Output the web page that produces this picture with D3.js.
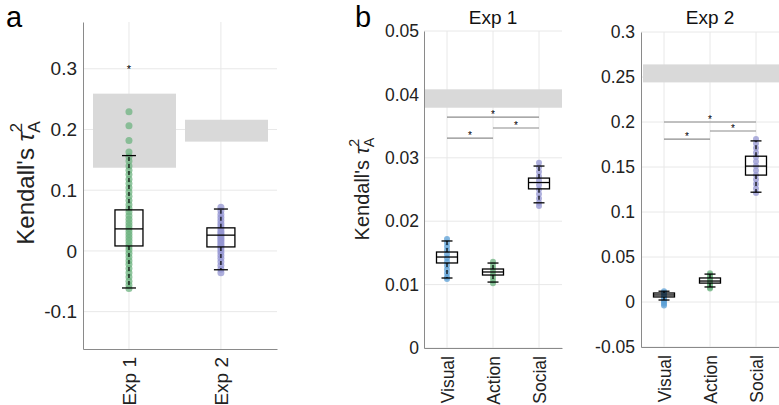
<!DOCTYPE html>
<html><head><meta charset="utf-8">
<script src="https://cdn.jsdelivr.net/npm/d3@7"></script>
<style>body{margin:0;background:#fff} text{font-family:"Liberation Sans",Arial,Helvetica,sans-serif}</style>
</head><body><svg id="c" width="779" height="405"></svg>
<script>
// ---------- data ----------
// panel a
const aCats = ["Exp 1", "Exp 2"];
const aTicks = [-0.1, 0, 0.1, 0.2, 0.3];
const aTickLabels = ["-0.1", "0", "0.1", "0.2", "0.3"];
const aExp1Points = [0.229, 0.206, 0.182, 0.163, 0.155, 0.148, 0.140, 0.133, 0.126, 0.118, 0.111, 0.104, 0.097, 0.090, 0.083, 0.076, 0.070, 0.064, 0.058, 0.052, 0.047, 0.042, 0.037, 0.032, 0.027, 0.022, 0.017, 0.012, 0.007, 0.002, -0.004, -0.010, -0.016, -0.022, -0.029, -0.036, -0.043, -0.050, -0.056, -0.062];
const aExp2Points = [0.072, 0.066, 0.060, 0.055, 0.050, 0.045, 0.041, 0.037, 0.033, 0.030, 0.027, 0.024, 0.021, 0.018, 0.015, 0.012, 0.009, 0.006, 0.002, -0.002, -0.007, -0.012, -0.018, -0.024, -0.030, -0.036];
// box stats: q1, median, q3, lower whisker, upper whisker
const aBoxStats = [[0.0082, 0.0363, 0.0676, -0.061, 0.157], [0.0066, 0.026, 0.038, -0.031, 0.069]];
const aOutliers = [[0, 0.303]];
const aCeilLow = [0.137, 0.180];
const aCeilHigh = [0.259, 0.216];

// panel b
const bCats = ["Visual", "Action", "Social"];
const b1Ticks = [0, 0.01, 0.02, 0.03, 0.04, 0.05];
const b1TickLabels = ["0", "0.01", "0.02", "0.03", "0.04", "0.05"];
const b1Visual = [0.0172, 0.0166, 0.0160, 0.0154, 0.0148, 0.0142, 0.0136, 0.0130, 0.0124, 0.0118, 0.0112, 0.0109];
const b1Action = [0.0136, 0.0131, 0.0126, 0.0121, 0.0116, 0.0111, 0.0106, 0.0102];
const b1Social = [0.0292, 0.0285, 0.0278, 0.0271, 0.0264, 0.0257, 0.0250, 0.0243, 0.0236, 0.0229, 0.0224];
const b1BoxStats = [[0.01341, 0.01435, 0.01514, 0.01104, 0.01688], [0.01151, 0.01199, 0.01246, 0.0104, 0.0134], [0.0251, 0.0261, 0.0268, 0.0229, 0.0287]];
const b1Ceil = [0.0379, 0.0408];
const b1Sig = [[0, 2, 0.0364], [1, 2, 0.0347], [0, 1, 0.0331]];

const b2Ticks = [-0.05, 0, 0.05, 0.1, 0.15, 0.2, 0.25, 0.3];
const b2TickLabels = ["-0.05", "0", "0.05", "0.1", "0.15", "0.2", "0.25", "0.3"];
const b2Visual = [0.012, 0.010, 0.008, 0.006, 0.004, 0.002, 0.000, -0.002, -0.004];
const b2Action = [0.032, 0.030, 0.028, 0.026, 0.024, 0.022, 0.020, 0.018, 0.016, 0.015];
const b2Social = [0.181, 0.176, 0.171, 0.166, 0.161, 0.156, 0.151, 0.146, 0.141, 0.136, 0.131, 0.126, 0.121];
const b2BoxStats = [[0.0056, 0.0078, 0.010, 0.0022, 0.012], [0.021, 0.0233, 0.0267, 0.0167, 0.031], [0.141, 0.151, 0.162, 0.122, 0.179]];
const b2Ceil = [0.244, 0.264];
const b2Sig = [[0, 2, 0.200], [1, 2, 0.190], [0, 1, 0.181]];

// ---------- drawing ----------
const COL_BLUE = "#5b9fd6", COL_GREEN = "#6db380", COL_PURPLE = "#9496d2";
const svg = d3.select("#c");
svg.append("rect").attr("width", 779).attr("height", 405).attr("fill", "#fff");

function panel(cfg) {
  const g = svg.append("g");
  const x = d3.scaleLinear().domain(cfg.xDomain).range([cfg.left, cfg.right]);
  const y = d3.scaleLinear().domain(cfg.yDomain).range([cfg.bottom, cfg.top]);
  const cx = i => x(i + 1);
  // grid
  g.selectAll(".gy").data(cfg.ticks).enter().append("line")
    .attr("x1", cfg.left).attr("x2", cfg.right).attr("y1", d => y(d)).attr("y2", d => y(d))
    .attr("stroke", "#e8e8e8").attr("stroke-width", 1);
  g.selectAll(".gx").data(cfg.cats).enter().append("line")
    .attr("x1", (d, i) => cx(i)).attr("x2", (d, i) => cx(i)).attr("y1", cfg.top).attr("y2", cfg.bottom)
    .attr("stroke", "#e8e8e8").attr("stroke-width", 1);
  // ceiling shading
  cfg.ceil.forEach(c => {
    g.append("rect").attr("x", c.x0).attr("width", c.x1 - c.x0)
      .attr("y", y(c.hi)).attr("height", y(c.lo) - y(c.hi)).attr("fill", "#d9d9d9");
  });
  // axes
  const ya = d3.axisLeft(y).tickValues(cfg.ticks).tickSize(0).tickSizeOuter(0)
    .tickFormat((d, i) => cfg.tickLabels[i]).tickPadding(cfg.tickPad);
  const yg = g.append("g").attr("transform", `translate(${cfg.left},0)`).call(ya);
  yg.select(".domain").attr("stroke", "#8a8a8a");
  yg.selectAll("text").attr("font-size", cfg.tickFont).attr("fill", "#222")
    .attr("font-family", "Liberation Sans, Arial, sans-serif");
  const xa = d3.axisBottom(x).tickValues(cfg.cats.map((d, i) => i + 1)).tickSize(0).tickSizeOuter(0)
    .tickFormat((d, i) => cfg.cats[i]);
  const xg = g.append("g").attr("transform", `translate(0,${cfg.bottom})`).call(xa);
  xg.select(".domain").attr("stroke", "#8a8a8a");
  xg.selectAll("text").attr("font-size", cfg.xFont).attr("fill", "#222")
    .attr("font-family", "Liberation Sans, Arial, sans-serif")
    .attr("text-anchor", "end").attr("y", 0).attr("dy", "0.35em")
    .attr("transform", "translate(0,8) rotate(-90)");
  // points
  cfg.points.forEach((pts, i) => {
    g.selectAll(null).data(pts).enter().append("circle")
      .attr("cx", cx(i)).attr("cy", d => y(d)).attr("r", cfg.r)
      .attr("fill", cfg.colors[i]).attr("fill-opacity", 0.75);
  });
  // boxes
  cfg.box.forEach((b, i) => {
    const [q1, med, q3, lo, hi] = b;
    const xc = cx(i), bw = cfg.boxW, cw = cfg.capW;
    g.append("line").attr("x1", xc).attr("x2", xc).attr("y1", y(q3)).attr("y2", y(hi))
      .attr("stroke", "#000").attr("stroke-width", 1.2).attr("stroke-dasharray", "4,3");
    g.append("line").attr("x1", xc).attr("x2", xc).attr("y1", y(q1)).attr("y2", y(lo))
      .attr("stroke", "#000").attr("stroke-width", 1.2).attr("stroke-dasharray", "4,3");
    [lo, hi].forEach(v => g.append("line").attr("x1", xc - cw / 2).attr("x2", xc + cw / 2)
      .attr("y1", y(v)).attr("y2", y(v)).attr("stroke", "#000").attr("stroke-width", 1.3));
    g.append("rect").attr("x", xc - bw / 2).attr("width", bw).attr("y", y(q3)).attr("height", Math.max(y(q1) - y(q3), 1))
      .attr("fill", "none").attr("stroke", "#000").attr("stroke-width", 1.3);
    g.append("line").attr("x1", xc - bw / 2).attr("x2", xc + bw / 2).attr("y1", y(med)).attr("y2", y(med))
      .attr("stroke", "#000").attr("stroke-width", 1.3);
  });
  (cfg.outliers || []).forEach(o => {
    g.append("text").attr("x", cx(o[0])).attr("y", y(o[1]) + 6).attr("text-anchor", "middle")
      .attr("font-size", 11).attr("fill", "#000").text("*");
  });
  (cfg.sig || []).forEach(s => {
    const yy = y(s[2]);
    g.append("line").attr("x1", cx(s[0])).attr("x2", cx(s[1])).attr("y1", yy).attr("y2", yy)
      .attr("stroke", "#8c8c8c").attr("stroke-width", 1.2);
    g.append("text").attr("x", (cx(s[0]) + cx(s[1])) / 2).attr("y", yy + 1).attr("text-anchor", "middle")
      .attr("font-size", 10).attr("fill", "#000").text("*");
  });
  if (cfg.title) {
    g.append("text").attr("x", (cfg.left + cfg.right) / 2).attr("y", 24).attr("text-anchor", "middle")
      .attr("font-size", 19).attr("fill", "#111").text(cfg.title);
  }
  return { x, y };
}

function ylabel(xb, cy, fs) {
  const t = svg.append("text").attr("transform", `translate(${xb},${cy}) rotate(-90)`)
    .attr("text-anchor", "middle").attr("font-size", fs).attr("fill", "#222");
  t.append("tspan").text("Kendall's ");
  t.append("tspan").attr("font-style", "italic").text("τ");
  const ss = fs * 0.72;
  t.append("tspan").attr("font-size", ss).attr("dy", -fs * 0.5).text("2");
  t.append("tspan").attr("font-size", ss).attr("dx", -ss * 0.58).attr("dy", fs * 0.75).text("A");
}

// panel a
panel({
  left: 83, right: 277, top: 22, bottom: 349,
  xDomain: [0.5, 2.61], yDomain: [-0.1615, 0.377],
  cats: aCats, ticks: aTicks, tickLabels: aTickLabels, tickFont: 19, xFont: 19, tickPad: 6,
  points: [aExp1Points, aExp2Points], colors: [COL_GREEN, COL_PURPLE], r: 3.5,
  box: aBoxStats, boxW: 28, capW: 14, outliers: aOutliers,
  ceil: [{ x0: 93, x1: 176, lo: aCeilLow[0], hi: aCeilHigh[0] }, { x0: 185, x1: 268, lo: aCeilLow[1], hi: aCeilHigh[1] }]
});
ylabel(34, 183, 24);
svg.append("text").attr("x", 6).attr("y", 27).attr("font-size", 29).attr("fill", "#000").text("a");

// panel b, Exp 1
panel({
  left: 424, right: 562, top: 31, bottom: 348,
  xDomain: [0.5, 3.5], yDomain: [0, 0.05], title: "Exp 1",
  cats: bCats, ticks: b1Ticks, tickLabels: b1TickLabels, tickFont: 17.5, xFont: 17.5, tickPad: 5,
  points: [b1Visual, b1Action, b1Social], colors: [COL_BLUE, COL_GREEN, COL_PURPLE], r: 3,
  box: b1BoxStats, boxW: 21, capW: 11, sig: b1Sig,
  ceil: [{ x0: 425, x1: 562, lo: b1Ceil[0], hi: b1Ceil[1] }]
});
ylabel(369, 189, 20);
svg.append("text").attr("x", 355).attr("y", 27).attr("font-size", 29).attr("fill", "#000").text("b");

// panel b, Exp 2
panel({
  left: 641, right: 779, top: 32, bottom: 347,
  xDomain: [0.5, 3.5], yDomain: [-0.05, 0.3], title: "Exp 2",
  cats: bCats, ticks: b2Ticks, tickLabels: b2TickLabels, tickFont: 17.5, xFont: 17.5, tickPad: 6,
  points: [b2Visual, b2Action, b2Social], colors: [COL_BLUE, COL_GREEN, COL_PURPLE], r: 3,
  box: b2BoxStats, boxW: 21, capW: 11, sig: b2Sig,
  ceil: [{ x0: 643, x1: 779, lo: b2Ceil[0], hi: b2Ceil[1] }]
});
</script>
</body></html>
